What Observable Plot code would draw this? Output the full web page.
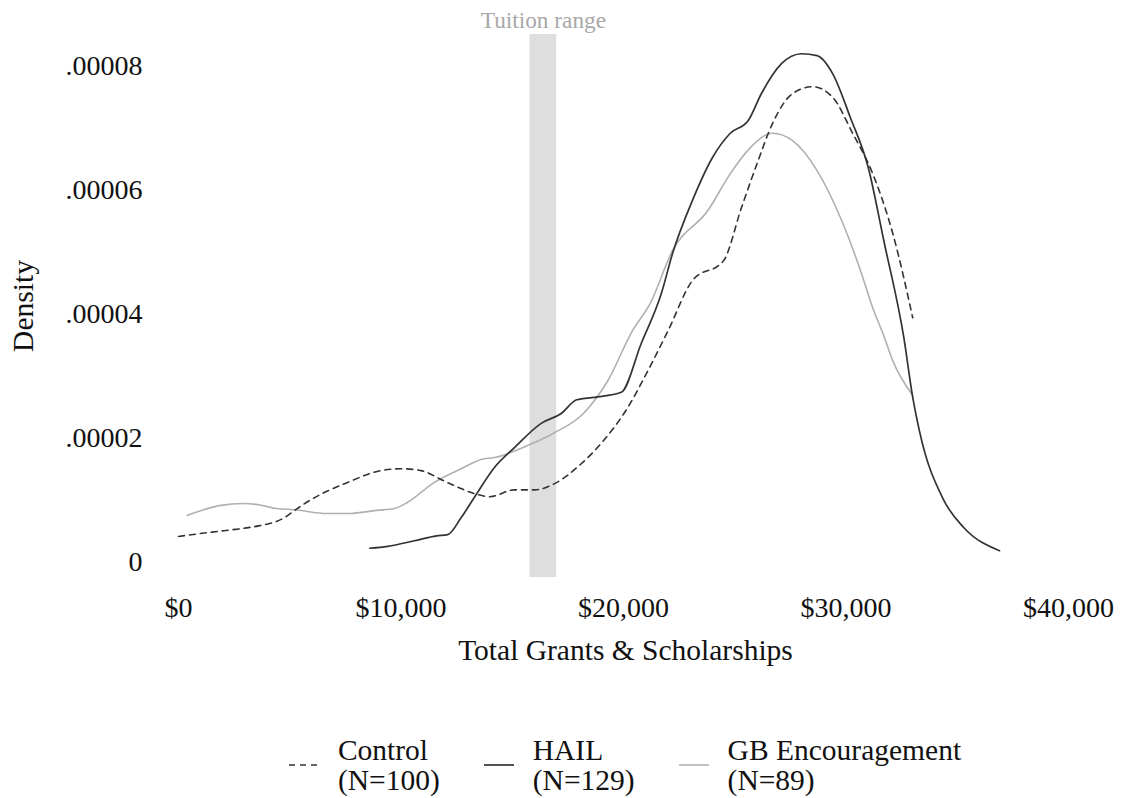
<!DOCTYPE html>
<html><head><meta charset="utf-8">
<script src="https://cdn.jsdelivr.net/npm/d3@7"></script>
<script src="https://cdn.jsdelivr.net/npm/@observablehq/plot@0.6"></script>
<style>
body{margin:0;background:#fff;font-family:"Liberation Serif","Times New Roman",serif;}
#wrap{position:relative;width:1127px;height:798px;overflow:hidden;}
#legend{position:absolute;left:160px;width:930px;top:735px;display:flex;justify-content:center;gap:44px;font-size:29.5px;line-height:30px;color:#111;}
.item{display:flex;align-items:flex-start;gap:19px;}
.item svg{margin-top:28px;display:block;}
</style></head><body><div id="wrap"></div>
<script>
// Series names and sample sizes
const seriesNames = ["Control", "HAIL", "GB Encouragement"];
const seriesN = [100, 129, 89];

// Control (x in $, density in 1e-6)
const controlX = [0, 1500, 2900, 3600, 4700, 5300, 5900, 7600, 9100, 10000, 10900, 11900, 12700, 13300, 14000, 15100, 16000, 16900, 18100, 19000, 20200, 21100, 22000, 23100, 24500, 25300, 26000, 26700, 27600, 28500, 29400, 30300, 31200, 32100, 33000];
const controlY = [4.2, 4.9, 5.5, 5.9, 7.1, 8.6, 10.0, 12.9, 14.8, 15.1, 14.8, 13.2, 11.9, 11.1, 10.6, 11.7, 11.7, 12.7, 15.9, 19.2, 25.0, 30.9, 37.3, 45.4, 48.6, 57.1, 64.2, 70.7, 75.5, 76.6, 74.9, 69.1, 62.6, 53.0, 39.4];

// HAIL
const hailX = [8600, 9400, 10600, 11600, 12100, 12700, 13300, 14200, 15100, 16300, 17200, 17900, 18700, 19900, 20800, 21700, 22200, 23100, 24000, 24800, 25600, 26200, 27100, 28000, 28700, 29400, 30200, 31000, 31700, 32600, 33000, 33300, 34400, 35300, 36900];
const hailY = [2.3, 2.6, 3.5, 4.3, 4.5, 7.2, 10.5, 15.3, 18.5, 22.4, 24.0, 26.2, 26.6, 27.4, 35.3, 43.3, 49.7, 58.3, 65.2, 69.1, 71.1, 75.5, 80.3, 81.9, 81.6, 78.7, 71.6, 63.6, 51.8, 36.2, 26.6, 21.2, 10.0, 5.6, 1.9];

// GB Encouragement
const gbX = [400, 1900, 2900, 3600, 4400, 5200, 6700, 7700, 8900, 9700, 10300, 11500, 12700, 13600, 14200, 15800, 16900, 18200, 19300, 20400, 21200, 22200, 23800, 24800, 25700, 26700, 27600, 28700, 29800, 30700, 31200, 31700, 32100, 33000];
const gbY = [7.6, 9.2, 9.5, 9.3, 8.7, 8.5, 7.9, 7.9, 8.4, 8.7, 9.7, 12.9, 15.1, 16.6, 16.9, 19.0, 20.9, 24.0, 29.3, 37.3, 41.7, 50.2, 56.7, 62.6, 66.8, 69.1, 67.9, 63.1, 55.1, 46.5, 41.0, 36.5, 32.5, 26.9];

// Tuition range band
const tuitionLo = [15800];
const tuitionHi = [17000];
const tuitionLabel = ["Tuition range"];

// Tick values
const xTicks = [0, 10000, 20000, 30000, 40000];
const yTicks = [0, 0.00002, 0.00004, 0.00006, 0.00008];

const styles = {
  "Control": {stroke: "#333", strokeWidth: 1.6, strokeDasharray: "6,5"},
  "HAIL": {stroke: "#333", strokeWidth: 1.7},
  "GB Encouragement": {stroke: "#b0b0b0", strokeWidth: 1.6}
};

const build = (name, xs, ys) => xs.map((x, i) => ({series: name, x, y: ys[i] * 1e-6}));
const controlData = build("Control", controlX, controlY);
const hailData = build("HAIL", hailX, hailY);
const gbData = build("GB Encouragement", gbX, gbY);
const band = tuitionLo.map((lo, i) => ({lo, hi: tuitionHi[i], label: tuitionLabel[i]}));

const yFmt = d => d === 0 ? "0" : d.toFixed(5).replace(/^0/, "");

const chart = Plot.plot({
  width: 1127, height: 700,
  marginLeft: 160, marginRight: 37, marginTop: 34, marginBottom: 123,
  style: {fontFamily: '"Liberation Serif", "Times New Roman", serif', fontSize: "28px", color: "#111", background: "#fff", overflow: "visible"},
  x: {domain: [-809, 40989]},
  y: {domain: [-2.41e-6, 85e-6]},
  marks: [
    Plot.rect(band, {x1: "lo", x2: "hi", fill: "#dedede"}),
    Plot.text(band, {x: d => (d.lo + d.hi) / 2, text: "label", frameAnchor: "top", lineAnchor: "middle", dy: -14, fill: "#a8a8a8", fontSize: 23.3}),
    Plot.line(gbData, {x: "x", y: "y", curve: "monotone-x", ...styles["GB Encouragement"]}),
    Plot.line(controlData, {x: "x", y: "y", curve: "monotone-x", ...styles["Control"]}),
    Plot.line(hailData, {x: "x", y: "y", curve: "monotone-x", ...styles["HAIL"]}),
    Plot.axisX({ticks: xTicks, tickFormat: d3.format("$,"), tickSize: 0, tickPadding: 20, line: true, stroke: "#333", strokeWidth: 1.5, label: null}),
    Plot.axisX({ticks: [], tickSize: 0, label: "Total Grants & Scholarships", labelAnchor: "center", labelOffset: 82, labelArrow: "none", fontSize: 29.5}),
    Plot.axisY({ticks: yTicks, tickFormat: yFmt, tickSize: 0, tickPadding: 18, line: true, stroke: "#333", strokeWidth: 1.5, label: null}),
    Plot.axisY({ticks: [], tickSize: 0, label: "Density", labelAnchor: "center", labelOffset: 148, labelArrow: "none", fontSize: 29.5})
  ]
});

const wrap = document.getElementById("wrap");
wrap.appendChild(chart);

const legend = document.createElement("div");
legend.id = "legend";
seriesNames.forEach((name, i) => {
  const s = styles[name];
  const item = document.createElement("div");
  item.className = "item";
  item.innerHTML = `<svg width="30" height="4"><line x1="0" x2="30" y1="2" y2="2" stroke="${s.stroke}" stroke-width="${s.strokeWidth}" ${s.strokeDasharray ? `stroke-dasharray="${s.strokeDasharray}"` : ""}/></svg><div>${name}<br>(N=${seriesN[i]})</div>`;
  legend.appendChild(item);
});
wrap.appendChild(legend);
</script>
</body></html>
